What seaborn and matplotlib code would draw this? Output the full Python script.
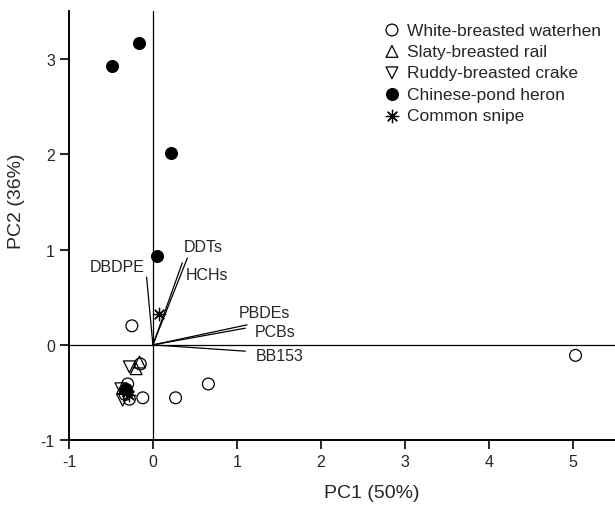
import matplotlib
matplotlib.use("Agg")
import matplotlib.pyplot as plt
import seaborn as sns

# species scores on PC1 / PC2
waterhen_x = [5.03, 0.66, 0.27, -0.12, -0.25, -0.15, -0.30, -0.28, -0.33]
waterhen_y = [-0.11, -0.41, -0.555, -0.555, 0.20, -0.20, -0.41, -0.57, -0.52]
rail_x = [-0.16, -0.20, -0.36]
rail_y = [-0.18, -0.25, -0.45]
crake_x = [-0.28, -0.36, -0.38, -0.33]
crake_y = [-0.23, -0.58, -0.46, -0.52]
heron_x = [-0.49, -0.17, 0.22, 0.05, -0.32]
heron_y = [2.92, 3.17, 2.01, 0.93, -0.46]
snipe_x = [0.07, -0.31, -0.28]
snipe_y = [0.32, -0.49, -0.53]

# loading vectors
load_names = ["DDTs", "HCHs", "DBDPE", "PBDEs", "PCBs", "BB153"]
load_x = [0.41, 0.35, -0.075, 1.12, 1.10, 1.10]
load_y = [0.91, 0.86, 0.71, 0.21, 0.175, -0.066]

# label offsets from vector tips (layout only)
label_off = {
    "DDTs": (-0.04, 0.12, "left"),
    "HCHs": (0.04, -0.12, "left"),
    "DBDPE": (-0.02, 0.11, "right"),
    "PBDEs": (-0.10, 0.13, "left"),
    "PCBs": (0.11, -0.035, "left"),
    "BB153": (0.13, -0.045, "left"),
}

sns.set_style("ticks")
plt.rcParams["font.family"] = ["Liberation Sans", "DejaVu Sans"]
plt.rcParams["axes.unicode_minus"] = False

fig = plt.figure(figsize=(6.15, 5.06), dpi=100)
ax = fig.add_axes([0.112, 0.128, 0.888, 0.848])

ax.axvline(0, color="black", lw=0.9, zorder=1)
ax.axhline(0, color="black", lw=0.9, zorder=1)

groups = [
    ("White-breasted waterhen", waterhen_x, waterhen_y, "o", "none"),
    ("Slaty-breasted rail", rail_x, rail_y, "^", "none"),
    ("Ruddy-breasted crake", crake_x, crake_y, "v", "none"),
    ("Chinese-pond heron", heron_x, heron_y, "o", "black"),
    ("Common snipe", snipe_x, snipe_y, (8, 2, 0), None),
]
for name, xs, ys, mk, fc in groups:
    if fc is None:
        sns.scatterplot(x=xs, y=ys, marker=mk, color="black", s=80,
                        linewidth=0.9, label=name, ax=ax, zorder=3)
    else:
        sns.scatterplot(x=xs, y=ys, marker=mk, color="black", facecolor=fc,
                        edgecolor="black", s=72, linewidth=0.9, label=name,
                        ax=ax, zorder=3)

for name, lx, ly in zip(load_names, load_x, load_y):
    ax.plot([0, lx], [0, ly], color="black", lw=0.9, zorder=2)
    dx, dy, ha = label_off[name]
    ax.text(lx + dx, ly + dy, name, ha=ha, va="center", fontsize=11.5)

ax.set_xlim(-1, 5.5)
ax.set_ylim(-1, 3.5)
ax.set_xticks([-1, 0, 1, 2, 3, 4, 5])
ax.set_yticks([-1, 0, 1, 2, 3])
ax.tick_params(direction="out", length=6.5, width=1.2, labelsize=11.5, color="black")
sns.despine(ax=ax)
for sp in ["left", "bottom"]:
    ax.spines[sp].set_linewidth(1.4)
    ax.spines[sp].set_color("black")

ax.set_xlabel("PC1 (50%)", fontsize=14)
ax.set_ylabel("PC2 (36%)", fontsize=14)
ax.xaxis.set_label_coords(0.555, -0.102)
ax.yaxis.set_label_coords(-0.08, 0.56)

ax.legend(loc="upper left", bbox_to_anchor=(0.555, 1.0), frameon=False,
          fontsize=12.5, labelspacing=0.36, handlelength=1.0,
          handletextpad=0.35, borderaxespad=0.25)

fig.savefig("out.png", dpi=100)
